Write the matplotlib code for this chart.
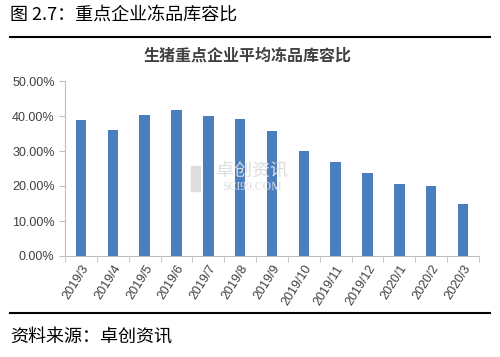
import matplotlib
matplotlib.use("Agg")
import matplotlib.pyplot as plt
from matplotlib.ticker import FuncFormatter, MultipleLocator

plt.rcParams['font.family'] = ['Noto Sans CJK SC', 'DejaVu Sans']

categories = ["2019/3", "2019/4", "2019/5", "2019/6", "2019/7", "2019/8", "2019/9",
              "2019/10", "2019/11", "2019/12", "2020/1", "2020/2", "2020/3"]
values = [38.9, 36.0, 40.3, 41.6, 40.0, 39.2, 35.7, 29.9, 27.0, 23.7, 20.7, 20.0, 15.0]

header = "图 2.7：重点企业冻品库容比"
title = "生猪重点企业平均冻品库容比"
source = "资料来源：卓创资讯"

W, H = 500, 357
fig = plt.figure(figsize=(5, 3.57), dpi=100)

ax = fig.add_axes([65 / W, 1 - 256 / H, (479 - 65) / W, (256 - 81) / H])
x = list(range(len(categories)))
ax.bar(x, values, width=0.33, color="#4A7EBF", zorder=2)
ax.set_xlim(-0.5, len(categories) - 0.5)
ax.set_ylim(0, 50)
ax.yaxis.set_major_locator(MultipleLocator(10))
ax.yaxis.set_major_formatter(FuncFormatter(lambda v, p: f"{v:.2f}%"))
ax.set_xticks(x)
ax.set_xticklabels(categories, rotation=58, ha="right", rotation_mode="anchor",
                   fontsize=9, color="#404040", family=["Liberation Sans", "DejaVu Sans"])
ax.set_xticks([i - 0.5 for i in range(len(categories) + 1)], minor=True)
ax.tick_params(axis="x", which="major", length=0, pad=5)
ax.tick_params(axis="x", which="minor", length=4, color="#BFBFBF", direction="out")
ax.tick_params(axis="y", length=4, color="#BFBFBF", labelsize=9, labelcolor="#404040")
for lbl in ax.get_yticklabels():
    lbl.set_family(["Liberation Sans", "DejaVu Sans"])
for s in ["top", "right"]:
    ax.spines[s].set_visible(False)
for s in ["left", "bottom"]:
    ax.spines[s].set_color("#BFBFBF")
    ax.spines[s].set_linewidth(0.8)

# watermark
fig.patches.append(plt.Rectangle((191 / W, 1 - 191 / H), 9 / W, 25 / H, transform=fig.transFigure,
                                 color="#DDDDDD", zorder=0))
fig.text(252 / W, 1 - 171 / H, "卓创资讯", fontsize=13, color="#DDDDDD", ha="center", va="center", zorder=0)
fig.text(252 / W, 1 - 187 / H, "SCI99.COM", fontsize=8.5, color="#DDDDDD", ha="center", va="center",
         family=["Liberation Serif", "DejaVu Serif"], zorder=0)

fig.text(10 / W, 1 - 15 / H, header, fontsize=13, color="#000000", ha="left", va="center")
fig.add_artist(plt.Line2D([10 / W, 490 / W], [1 - 37 / H, 1 - 37 / H], color="black", lw=1.5))
fig.text(248 / W, 1 - 56 / H, title, fontsize=11.5, fontweight="bold", color="#404040", ha="center", va="center")
fig.add_artist(plt.Line2D([10 / W, 490 / W], [1 - 313 / H, 1 - 313 / H], color="black", lw=1.5))
fig.text(10 / W, 1 - 338 / H, source, fontsize=13, color="#000000", ha="left", va="center")

fig.savefig("out.png", dpi=100)
